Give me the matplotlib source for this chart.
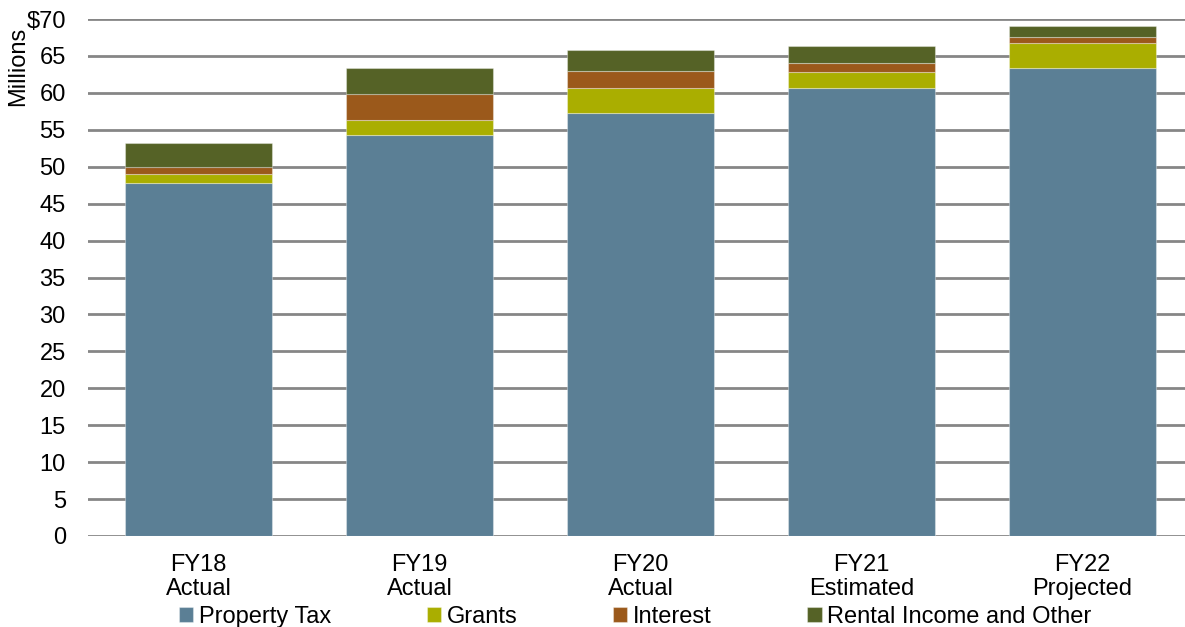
import matplotlib
matplotlib.use("Agg")
import matplotlib.pyplot as plt
import numpy as np

plt.rcParams['font.family'] = ['Liberation Sans', 'DejaVu Sans']

categories = ["FY18\nActual", "FY19\nActual", "FY20\nActual", "FY21\nEstimated", "FY22\nProjected"]
series_names = ["Property Tax", "Grants", "Interest", "Rental Income and Other"]
property_tax = [47.8, 54.3, 57.3, 60.7, 63.3]
grants = [1.2, 2.0, 3.3, 2.1, 3.4]
interest = [1.0, 3.6, 2.3, 1.3, 0.8]
rental_other = [3.2, 3.4, 2.9, 2.3, 1.6]
colors = ["#5B7F95", "#AAAE00", "#9B591B", "#556226"]
yticks = list(range(0, 75, 5))
ytick_labels = [str(v) for v in yticks[:-1]] + ["$70"]

W, H, DPI = 1185, 627, 100
FS = 17
fig = plt.figure(figsize=(W / DPI, H / DPI), dpi=DPI)
left_px, right_px, bottom_px, top_px = 88, 1185, 536, 19
ax = fig.add_axes([left_px / W, 1 - bottom_px / H,
                   (right_px - left_px) / W, (bottom_px - top_px) / H])

x = np.arange(len(categories))
bottom = np.zeros(len(categories))
handles = []
for name, vals, c in zip(series_names, [property_tax, grants, interest, rental_other], colors):
    b = ax.bar(x, vals, width=0.665, bottom=bottom, color=c, label=name,
               edgecolor=(1, 1, 1, 0.35), linewidth=0.8, zorder=3)
    handles.append(b)
    bottom += np.array(vals)

ax.set_ylim(0, 70)
ax.set_xlim(-0.5, -0.5 + (right_px - left_px) / 221.0)
ax.set_yticks(yticks)
ax.set_yticklabels(ytick_labels)
ax.set_xticks(x)
ax.set_xticklabels(categories, linespacing=1.1)
ax.yaxis.grid(True, color="#868686", linewidth=2, zorder=0)
ax.set_axisbelow(True)
for s in ax.spines.values():
    s.set_visible(False)
ax.tick_params(axis="y", length=0, pad=16, labelsize=FS, colors="black")
ax.tick_params(axis="x", length=0, pad=13, labelsize=FS, colors="black")

fig.text(18 / W, 1 - 66 / H, "Millions", rotation=90, ha="center", va="center", fontsize=FS)

fig.legend(handles=handles, labels=series_names, loc="center", ncol=4,
           bbox_to_anchor=(0.536, 1 - 617 / H), frameon=False, fontsize=FS,
           handlelength=0.6, handleheight=0.6, handletextpad=0.25,
           columnspacing=4.05, borderpad=0, borderaxespad=0)

fig.savefig("out.png", dpi=DPI)
